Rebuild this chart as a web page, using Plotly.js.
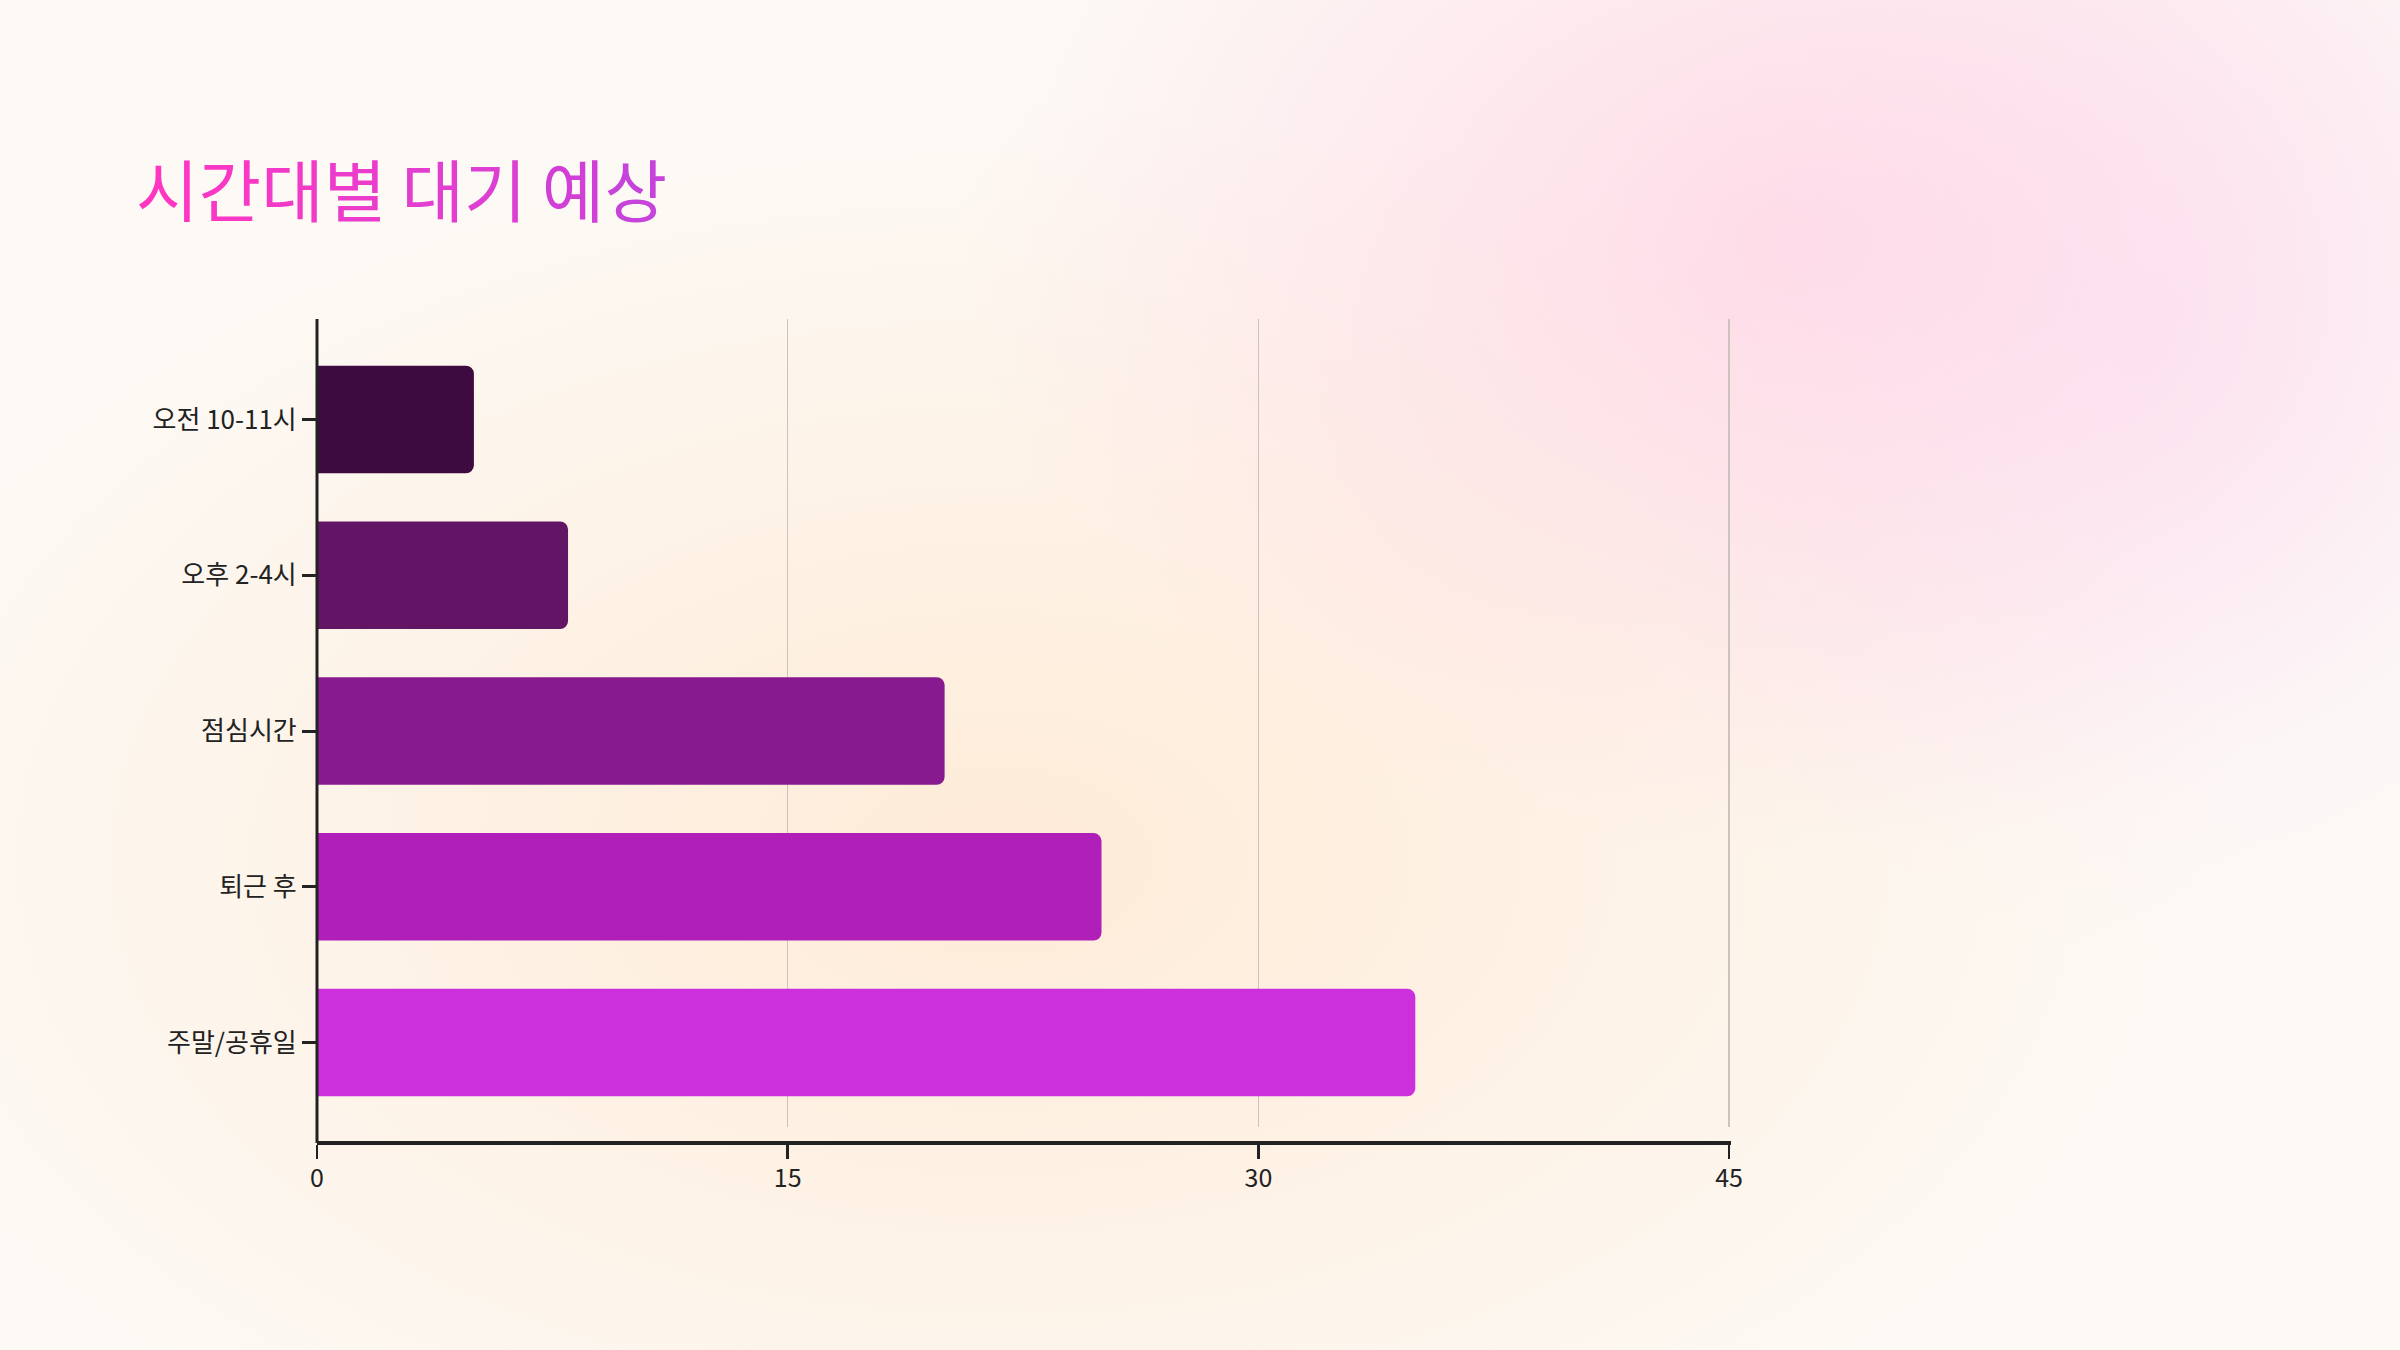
<!DOCTYPE html>
<html>
<head>
<meta charset="utf-8">
<script src="https://cdn.plot.ly/plotly-3.0.1.min.js"></script>
<style>
  html, body { margin: 0; padding: 0; }
  body {
    width: 2400px; height: 1350px; overflow: hidden;
    background:
      radial-gradient(ellipse 820px 620px at 1780px 240px, rgba(255,200,222,0.58), rgba(255,200,222,0) 100%),
      radial-gradient(ellipse 560px 620px at 2150px 330px, rgba(248,210,248,0.34), rgba(248,210,248,0) 100%),
      radial-gradient(ellipse 1250px 760px at 1000px 860px, rgba(255,226,196,0.62), rgba(255,226,196,0) 100%),
      #fdfaf6;
  }
  #chart { width: 2400px; height: 1350px; }
</style>
</head>
<body>
<div id="chart"></div>
<script>
const categories = ['오전 10-11시', '오후 2-4시', '점심시간', '퇴근 후', '주말/공휴일'];
const waitMinutes = [5, 8, 20, 25, 35];
const barColors = ['#3d0b40', '#621465', '#881a90', '#b020b8', '#cc30dc'];
const xTicks = [0, 15, 30, 45];

const titleChars = ['시', '간', '대', '별', ' ', '대', '기', ' ', '예', '상'];
const titleColors = ['#ff36c2', '#f938c5', '#f23ac8', '#ec3ccb', '', '#e23ecf', '#dc3fd2', '', '#d040d6', '#c644dc'];
const titleText = titleChars.map((c, i) => c === ' ' ? ' ' : '<span style="color:' + titleColors[i] + '">' + c + '</span>').join('');

const font = '"Noto Sans CJK KR", "Noto Sans", sans-serif';

var data = [
  {
    type: 'bar',
    orientation: 'h',
    x: waitMinutes,
    y: categories,
    marker: { color: barColors, cornerradius: 8, line: { width: 0 } },
    hoverinfo: 'x+y'
  }
];

var layout = {
  width: 2400,
  height: 1350,
  paper_bgcolor: 'rgba(0,0,0,0)',
  plot_bgcolor: 'rgba(0,0,0,0)',
  margin: { l: 317, r: 669, t: 319, b: 207 },
  showlegend: false,
  bargap: 0.31,
  font: { family: font, color: '#222222' },
  title: {
    text: titleText,
    font: { family: font, size: 68, color: '#e23ecf' },
    xref: 'container', x: 136 / 2400, xanchor: 'left',
    yref: 'container', y: 1 - 193 / 1350, yanchor: 'middle'
  },
  xaxis: {
    range: [0, 45.06],
    tickvals: xTicks,
    anchor: 'free',
    position: 0,
    showline: true,
    linecolor: '#222222',
    linewidth: 4,
    ticks: 'outside',
    ticklen: 14,
    tickwidth: 2.5,
    tickcolor: '#222222',
    ticklabelstandoff: -2,
    tickfont: { family: font, size: 25, color: '#222222' },
    showgrid: true,
    gridcolor: '#cdc3be',
    gridwidth: 1.5,
    zeroline: false
  },
  yaxis: {
    domain: [16 / 824, 1],
    type: 'category',
    categoryorder: 'array',
    categoryarray: categories,
    range: [4.542, -0.645],
    showline: false,
    ticks: 'outside',
    ticklen: 14,
    tickwidth: 3,
    tickcolor: '#222222',
    ticklabelstandoff: 0,
    tickfont: { family: font, size: 26, color: '#222222' },
    showgrid: false,
    zeroline: false
  },
  shapes: [
    {
      type: 'line', xref: 'paper', yref: 'paper',
      x0: 0, x1: 0, y0: 0, y1: 1,
      line: { color: '#222222', width: 3 }
    }
  ]
};

Plotly.newPlot('chart', data, layout, { displayModeBar: false, staticPlot: true });
</script>
</body>
</html>
